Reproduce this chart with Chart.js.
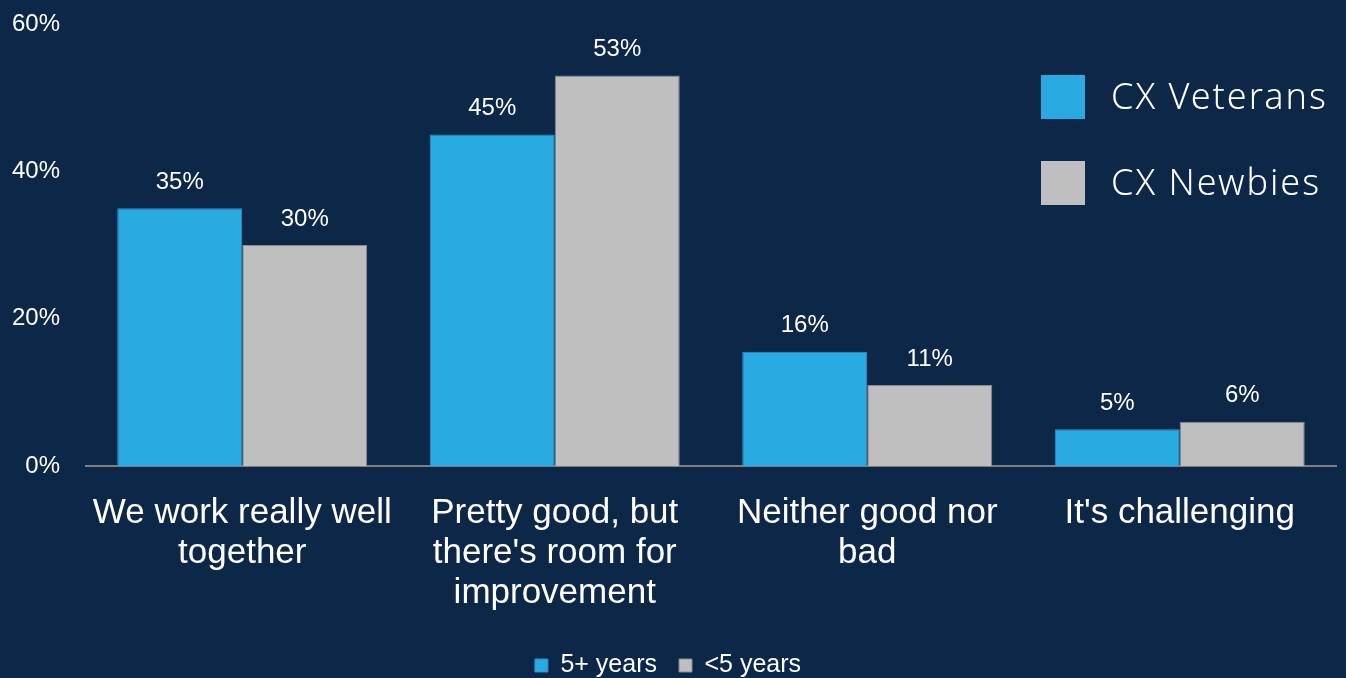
<!DOCTYPE html>
<html>
<head>
<meta charset="utf-8">
<script src="https://cdn.jsdelivr.net/npm/chart.js@4.4.1/dist/chart.umd.min.js"></script>
<style>
  html, body { margin: 0; padding: 0; background: #0c2748; }
  #wrap { width: 1346px; height: 678px; }
</style>
</head>
<body>
<div id="wrap"><canvas id="chart"></canvas></div>
<script>
// categories and values
const categories = [
    ['We work really well', 'together'],
    ['Pretty good, but', "there's room for", 'improvement'],
    ['Neither good nor', 'bad'],
    ["It's challenging"]
];
const veterans = [35, 45, 15.5, 5];
const newbies = [30, 53, 11, 6];
const seriesNames = ['5+ years', '<5 years'];
const bigLegendNames = ['CX Veterans', 'CX Newbies'];
const yTicks = [0, 20, 40, 60];

const BLUE = '#29abe2';
const GREY = '#bfbfbf';
const BG = '#0c2748';
const FONT = '"Liberation Sans", Arial, sans-serif';

// paint the background
const bgPlugin = {
    id: 'bg',
    beforeDraw(chart) {
        const ctx = chart.ctx;
        ctx.save();
        ctx.fillStyle = BG;
        ctx.fillRect(0, 0, chart.width, chart.height);
        ctx.restore();
    }
};

// percent labels above every bar
const valueLabels = {
    id: 'valueLabels',
    afterDatasetsDraw(chart) {
        const ctx = chart.ctx;
        ctx.save();
        ctx.fillStyle = '#ffffff';
        ctx.font = '24px ' + FONT;
        ctx.textAlign = 'center';
        ctx.textBaseline = 'middle';
        chart.data.datasets.forEach((ds, i) => {
            chart.getDatasetMeta(i).data.forEach((bar, j) => {
                ctx.fillText(Math.round(ds.data[j]) + '%', bar.x, bar.y - 26);
            });
        });
        ctx.restore();
    }
};

// the large legend drawn over the top right of the plot
const bigLegend = {
    id: 'bigLegend',
    afterDraw(chart) {
        const ctx = chart.ctx;
        const colors = [BLUE, GREY];
        const x = chart.chartArea.right - 295;
        ctx.save();
        ctx.font = '300 36px "Noto Sans", sans-serif';
        ctx.letterSpacing = '2px';
        ctx.textBaseline = 'middle';
        bigLegendNames.forEach((name, i) => {
            const y = 75 + i * 86;
            ctx.fillStyle = colors[i];
            ctx.fillRect(x, y, 44, 44);
            ctx.fillStyle = '#ffffff';
            ctx.fillText(name, x + 70, y + 24);
        });
        ctx.restore();
    }
};

new Chart(document.getElementById('chart'), {
    type: 'bar',
    data: {
        labels: categories,
        datasets: [{
            label: seriesNames[0],
            data: veterans,
            backgroundColor: BLUE,
            borderColor: '#2796cb',
            borderWidth: 1
        }, {
            label: seriesNames[1],
            data: newbies,
            backgroundColor: GREY,
            borderColor: '#8a8a8a',
            borderWidth: 1
        }]
    },
    options: {
        responsive: true,
        maintainAspectRatio: false,
        animation: false,
        layout: { padding: { top: 24, right: 10, left: 0, bottom: -10 } },
        datasets: {
            bar: { categoryPercentage: 0.8, barPercentage: 1.0 }
        },
        scales: {
            x: {
                grid: { display: false, drawTicks: false },
                border: { display: true, color: '#7f7f7f', width: 2 },
                ticks: {
                    color: '#ffffff',
                    padding: 27,
                    maxRotation: 0,
                    autoSkip: false,
                    font: { family: FONT, size: 35, lineHeight: '40px' }
                },
                afterFit(scale) { scale.height = 165; }
            },
            y: {
                min: 0,
                max: 60,
                afterBuildTicks(scale) { scale.ticks = yTicks.map(v => ({ value: v })); },
                grid: { display: false, drawTicks: false },
                border: { display: false },
                ticks: {
                    color: '#ffffff',
                    padding: 26,
                    font: { family: FONT, size: 24 },
                    callback: v => v + '%'
                },
                afterFit(scale) {
                    scale.width = 86;
                    scale.paddingTop = 0;
                }
            }
        },
        plugins: {
            legend: {
                position: 'bottom',
                labels: {
                    color: '#ffffff',
                    boxWidth: 13,
                    boxHeight: 13,
                    padding: 22,
                    font: { family: FONT, size: 25 }
                }
            },
            tooltip: { enabled: false }
        }
    },
    plugins: [bgPlugin, valueLabels, bigLegend]
});
</script>
</body>
</html>
